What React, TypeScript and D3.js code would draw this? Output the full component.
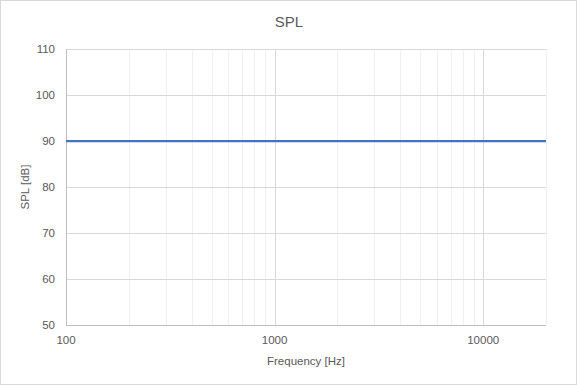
import React from "react";
import * as d3 from "d3";

const title = "SPL";
const xTitle = "Frequency [Hz]";
const yTitle = "SPL [dB]";
const xDomain = [100, 20000];
const yDomain = [50, 110];
const yTicks = [50, 60, 70, 80, 90, 100, 110];
const xMajorTicks = [100, 1000, 10000];
const freqs = [100, 200, 500, 1000, 2000, 5000, 10000, 20000];
const spl = [90, 90, 90, 90, 90, 90, 90, 90];

const W = 577;
const H = 385;
const M = { left: 66, right: 546, top: 49, bottom: 325 };
const FONT = "'Liberation Sans', Arial, sans-serif";
const TXT = "#595959";

export default function App() {
  const x = d3.scaleLog().domain(xDomain).range([M.left, M.right]);
  const y = d3.scaleLinear().domain(yDomain).range([M.bottom, M.top]);
  const minor: number[] = [];
  for (let dec = 100; dec < 20000; dec *= 10) {
    for (let k = 2; k <= 9; k++) {
      const v = dec * k;
      if (v <= 20000) minor.push(v);
    }
  }
  const line = d3
    .line<number>()
    .x((_, i) => x(freqs[i]))
    .y((d) => y(d));
  return (
    <svg
      width={W}
      height={H}
      style={{ position: "absolute", left: 0, top: 0 }}
      fontFamily={FONT}
    >
      <rect x={0} y={0} width={W} height={H} fill="#fff" />
      <rect x={0.5} y={0.5} width={W - 1} height={H - 1} fill="none" stroke="#d9d9d9" />
      {minor.map((v) => (
        <line key={"m" + v} x1={Math.round(x(v)) + 0.5} x2={Math.round(x(v)) + 0.5} y1={M.top} y2={M.bottom} stroke="#f0f0f0" />
      ))}
      {yTicks.map((v) => (
        <line key={"y" + v} x1={M.left} x2={M.right} y1={Math.round(y(v)) + 0.5} y2={Math.round(y(v)) + 0.5} stroke="#d9d9d9" />
      ))}
      {xMajorTicks.map((v) => (
        <line key={"M" + v} x1={Math.round(x(v)) + 0.5} x2={Math.round(x(v)) + 0.5} y1={M.top} y2={M.bottom} stroke="#d9d9d9" />
      ))}
      <line x1={M.left + 0.5} x2={M.left + 0.5} y1={M.top} y2={M.bottom + 1} stroke="#bfbfbf" />
      <line x1={M.left} x2={M.right} y1={M.bottom + 0.5} y2={M.bottom + 0.5} stroke="#bfbfbf" />
      <path d={line(spl) || ""} fill="none" stroke="#4472C4" strokeWidth={2.25} />
      {yTicks.map((v) => (
        <text key={"yl" + v} x={55} y={y(v)} dy="0.35em" textAnchor="end" fontSize={11.5} fill={TXT}>
          {v}
        </text>
      ))}
      {xMajorTicks.map((v) => (
        <text key={"xl" + v} x={x(v)} y={344} textAnchor="middle" fontSize={11.5} fill={TXT}>
          {v}
        </text>
      ))}
      <text x={289} y={27} textAnchor="middle" fontSize={15} fill={TXT}>
        {title}
      </text>
      <text x={(M.left + M.right) / 2} y={365} textAnchor="middle" fontSize={11.5} fill={TXT}>
        {xTitle}
      </text>
      <text
        transform={`translate(29, ${(M.top + M.bottom) / 2}) rotate(-90)`}
        textAnchor="middle"
        fontSize={11.5}
        fill={TXT}
      >
        {yTitle}
      </text>
    </svg>
  );
}
